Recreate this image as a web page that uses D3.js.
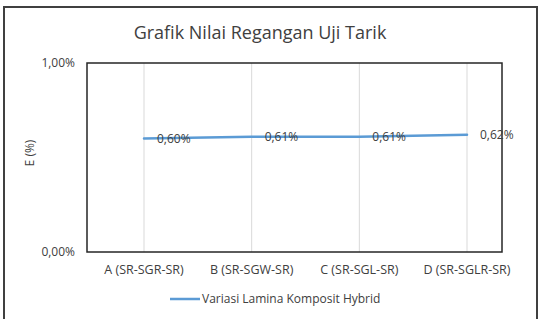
<!DOCTYPE html>
<html>
<head>
<meta charset="utf-8">
<script src="https://cdn.jsdelivr.net/npm/d3@7"></script>
<style>
  body { margin: 0; background: #fff; }
  svg text { font-family: "Open Sans", "Liberation Sans", sans-serif; fill: #404040; }
</style>
</head>
<body>
<div id="chart"></div>
<script>
// chart data
var categories = ["A (SR-SGR-SR)", "B (SR-SGW-SR)", "C (SR-SGL-SR)", "D (SR-SGLR-SR)"];
var values = [0.60, 0.61, 0.61, 0.62];
var valueLabels = ["0,60%", "0,61%", "0,61%", "0,62%"];
var yTicks = [0, 1];
var yTickLabels = ["0,00%", "1,00%"];
var seriesName = "Variasi Lamina Komposit Hybrid";

var width = 543, height = 319;
var plot = { left: 87, top: 63, right: 502, bottom: 252 };

var svg = d3.select("#chart").append("svg")
    .attr("width", width)
    .attr("height", height);

// outer chart frame (no bottom edge visible)
svg.append("path")
    .attr("d", "M4,320 V7 H537 V320")
    .attr("fill", "none")
    .attr("stroke", "#404040")
    .attr("stroke-width", 2);

var xScale = d3.scalePoint().domain(categories).range([144, 467]);
var yScale = d3.scaleLinear().domain([0, 1]).range([plot.bottom, plot.top]);

// vertical gridlines
svg.append("g")
    .selectAll("line")
    .data(categories)
    .enter()
    .append("line")
    .attr("x1", function(d) { return xScale(d); })
    .attr("x2", function(d) { return xScale(d); })
    .attr("y1", plot.top)
    .attr("y2", plot.bottom)
    .attr("stroke", "#d9d9d9")
    .attr("stroke-width", 1);

// plot frame
svg.append("rect")
    .attr("x", plot.left)
    .attr("y", plot.top)
    .attr("width", plot.right - plot.left)
    .attr("height", plot.bottom - plot.top)
    .attr("fill", "none")
    .attr("stroke", "#262626")
    .attr("stroke-width", 1.5);

// y tick labels
svg.append("g")
    .selectAll("text")
    .data(yTicks)
    .enter()
    .append("text")
    .attr("x", 75)
    .attr("y", function(d) { return yScale(d); })
    .attr("dy", "0.35em")
    .attr("text-anchor", "end")
    .attr("font-size", 12)
    .text(function(d, i) { return yTickLabels[i]; });

// x category labels
svg.append("g")
    .selectAll("text")
    .data(categories)
    .enter()
    .append("text")
    .attr("x", function(d) { return xScale(d); })
    .attr("y", 270)
    .attr("dy", "0.35em")
    .attr("text-anchor", "middle")
    .attr("font-size", 12.5)
    .text(function(d) { return d; });

// title
svg.append("text")
    .attr("x", 260)
    .attr("y", 33)
    .attr("dy", "0.35em")
    .attr("text-anchor", "middle")
    .attr("font-size", 18)
    .text("Grafik Nilai Regangan Uji Tarik");

// y axis title
svg.append("text")
    .attr("transform", "translate(30,153) rotate(-90)")
    .attr("dy", "0.35em")
    .attr("text-anchor", "middle")
    .attr("font-size", 12)
    .text("E (%)");

// series line
var line = d3.line()
    .x(function(d, i) { return xScale(categories[i]); })
    .y(function(d) { return yScale(d); });

svg.append("path")
    .datum(values)
    .attr("d", line)
    .attr("fill", "none")
    .attr("stroke", "#5b9bd5")
    .attr("stroke-width", 2.5)
    .attr("stroke-linecap", "round");

// data labels
svg.append("g")
    .selectAll("text")
    .data(values)
    .enter()
    .append("text")
    .attr("x", function(d, i) { return xScale(categories[i]) + 13; })
    .attr("y", function(d) { return yScale(d); })
    .attr("dy", "0.35em")
    .attr("font-size", 12)
    .text(function(d, i) { return valueLabels[i]; });

// legend
svg.append("line")
    .attr("x1", 170)
    .attr("x2", 200)
    .attr("y1", 299)
    .attr("y2", 299)
    .attr("stroke", "#5b9bd5")
    .attr("stroke-width", 2.5);

svg.append("text")
    .attr("x", 202)
    .attr("y", 299)
    .attr("dy", "0.35em")
    .attr("font-size", 12)
    .text(seriesName);
</script>
</body>
</html>
